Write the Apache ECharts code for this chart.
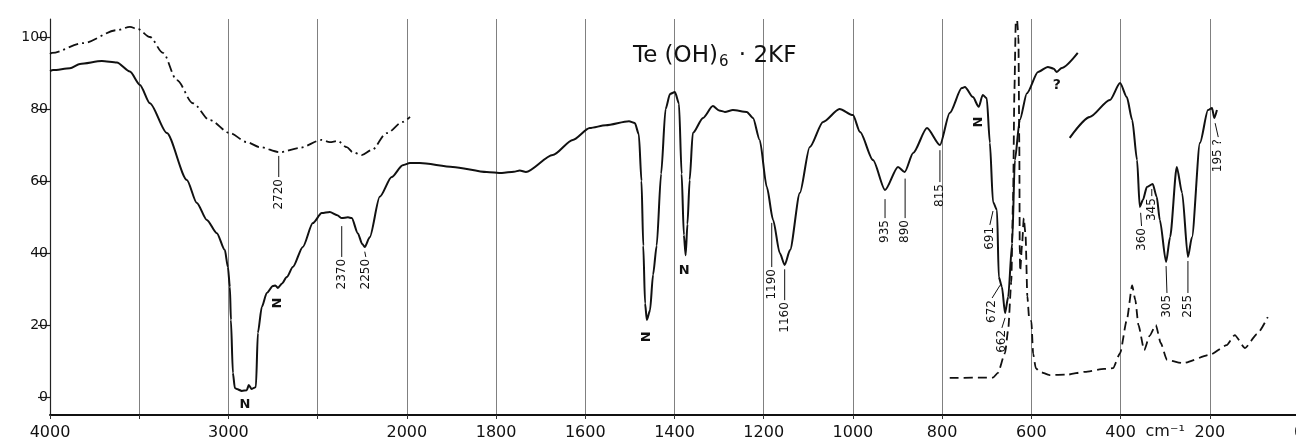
<!DOCTYPE html>
<html>
<head>
<meta charset="utf-8">
<title>Te(OH)6 · 2KF</title>
<script src="https://cdn.jsdelivr.net/npm/echarts@6/dist/echarts.min.js"></script>
<style>
  html, body { margin: 0; padding: 0; background: #fff; }
  #chart { width: 1296px; height: 442px; }
</style>
</head>
<body>
<div id="chart"></div>
<script>
// [wavenumber cm-1, transmittance %]
var nujolSpectrum = [
  [4000, 90.5], [3983, 90.8], [3888, 91.3], [3832, 92.5], [3709, 93.3], [3625, 92.9], [3552, 90.4],
  [3496, 86.7], [3440, 81.6], [3345, 73.3], [3233, 60.3], [3177, 53.9], [3121, 49.2], [3065, 45.5],
  [3020, 40.8], [3003, 36.1], [2992, 30.6], [2986, 21.4], [2975, 6.7], [2964, 2.5], [2953, 2.2],
  [2925, 1.7], [2897, 1.9], [2886, 3.3], [2870, 2.2], [2858, 2.5], [2846, 2.8], [2835, 17.8],
  [2813, 25], [2785, 28.9], [2751, 30.8], [2737, 31], [2723, 30.3], [2700, 31.5], [2673, 33.3],
  [2639, 36.1], [2583, 41.7], [2527, 48.3], [2477, 51.1], [2432, 51.4], [2390, 50.5], [2365, 49.7],
  [2330, 49.9], [2309, 49.7], [2275, 45.5], [2250, 42.5], [2236, 41.7], [2208, 44.4], [2152, 55.6],
  [2085, 61.1], [2023, 64.4], [1993, 65], [1971, 65], [1897, 63.9], [1821, 62.5], [1787, 62.2],
  [1760, 62.6], [1747, 62.9], [1733, 62.5], [1673, 67.2], [1628, 71.4], [1590, 74.7], [1554, 75.5],
  [1502, 76.6], [1489, 76.1], [1480, 73], [1474, 60], [1470, 42], [1466, 26], [1462, 21.4],
  [1455, 24], [1448, 34], [1440, 42], [1430, 62], [1420, 80], [1410, 84.2], [1399, 84.7],
  [1390, 81.5], [1384, 62], [1379, 45], [1375, 39.4], [1371, 48], [1366, 60.3], [1359, 73.3],
  [1336, 77.5], [1314, 80.8], [1300, 79.6], [1287, 79.2], [1269, 79.7], [1238, 79.2], [1224, 77.5],
  [1209, 71.4], [1193, 58.3], [1179, 49.2], [1164, 40], [1153, 36.7], [1141, 40.8], [1119, 56.7],
  [1097, 69.4], [1067, 76.4], [1030, 80], [1000, 78.3], [984, 73.6], [955, 65.8], [928, 57.5],
  [899, 63.9], [884, 62.5], [865, 67.8], [834, 74.7], [805, 70], [783, 78.9], [756, 85.8],
  [749, 86.1], [731, 83.3], [718, 80.6], [709, 83.9], [700, 83], [693, 70.6], [686, 54.2],
  [677, 51.9], [673, 33.3], [666, 30.6], [659, 23.3], [652, 27.8], [643, 42.8], [637, 65.8],
  [626, 76.9], [610, 84.4], [585, 90.3], [563, 91.7], [550, 91.2], [543, 90.3], [532, 91.4],
  [496, 95.6]
];
var dashDotSpectrum = [
  [4000, 95.3], [3989, 95.6], [3815, 98.3], [3625, 101.9], [3552, 102.8], [3507, 102.2], [3440, 100],
  [3367, 95.6], [3289, 88], [3199, 81.6], [3104, 76.9], [2992, 73.3], [2897, 70.8], [2824, 69.4],
  [2712, 68], [2600, 69.2], [2477, 71.4], [2432, 70.8], [2387, 71.1], [2337, 69.4], [2303, 68],
  [2253, 67.2], [2197, 68.6], [2113, 73.3], [2023, 76.4], [1993, 77.8]
];
var farIrSpectrum = [
  [514, 72], [469, 77.8], [424, 82.5], [401, 87.2], [386, 83.3], [374, 77], [363, 65.8], [357, 52.8],
  [350, 54.7], [341, 58.3], [328, 59.2], [319, 55.6], [312, 49.2], [298, 37.5], [289, 44.4],
  [274, 63.9], [262, 56.7], [249, 38.9], [240, 44.4], [222, 70.6], [204, 79.7], [195, 80.3],
  [190, 77.5], [184, 79.7]
];
var dashedSpectrum = [
  [783, 5.3], [686, 5.4], [675, 6.7], [659, 12.2], [652, 18.6], [645, 32], [641, 55], [638, 85],
  [635, 104], [632, 104.7], [629, 100], [627, 70], [626, 40], [625, 35], [621, 42], [617, 49.7],
  [613, 45], [609, 28], [605, 22], [600, 21], [596, 12], [590, 8], [581, 7], [559, 6.1], [520, 6.2],
  [480, 7], [437, 7.8], [417, 8], [401, 12.2], [386, 21.4], [374, 31], [367, 27], [360, 20],
  [347, 13], [335, 17], [321, 20], [310, 15], [296, 10.3], [260, 9.4], [200, 11.7], [162, 14.4],
  [144, 17.2], [121, 13.6], [94, 17.5], [70, 22.2]
];

var tickLabels = ['4000', '', '3000', '', '2000', '1800', '1600', '1400', '1200', '1000', '800', '600', '400', '200', '0'];
var yTicks = [0, 20, 40, 60, 80, 100];

// band labels: text, where the text starts [w, T], where its leader touches the curve [w, T]
var bandText = ['2720', '2370', '2250', '1190', '1160', '935', '890', '815', '691', '672', '662', '360', '345', '305', '255', '195 ?'];
var bandTextAt = [
  [2718, 61.1], [2365, 38.9], [2230, 38.9], [1182, 36.1], [1153, 26.9], [928, 49.7], [883, 49.7],
  [805, 59.7], [693, 47.8], [688, 27.5], [666, 19.2], [353, 47.5], [330, 55.8], [296, 28.9],
  [249, 28.9], [181, 72.2]
];
var bandTipAt = [
  [2718, 67.8], [2365, 48.3], [2236, 41.2], [1182, 49.2], [1153, 36.3], [928, 55.8], [883, 61.5],
  [805, 69.4], [686, 52.5], [670, 31.9], [659, 22.8], [355, 52], [330, 58.6], [298, 37.2],
  [249, 38.6], [188, 76.9]
];
var nujolUpright = [[2908, -2.2], [1378, 35]];
var nujolTurned = [[2723, 26.1], [1462, 16.7], [718, 76.4]];
var queryMark = [[543, 86.7]];
var unitMark = [[300, -9.8]];

// axis is linear in u: 4000-2000 compressed 2.5x
function u(w) {
  return w >= 2000 ? (4000 - w) * 0.4 : 800 + (2000 - w);
}
function toXY(arr) {
  return arr.map(function (p) { return [u(p[0]), p[1]]; });
}

var FONT = '"DejaVu Sans", sans-serif';
var INK = '#111';

function textSeries(points, label, rotate, font) {
  return {
    type: 'custom',
    silent: true,
    data: toXY(points),
    renderItem: function (params, api) {
      var pt = api.coord([api.value(0), api.value(1)]);
      return {
        type: 'text',
        x: pt[0], y: pt[1],
        rotation: rotate ? Math.PI / 2 : 0,
        style: { text: label, align: 'center', verticalAlign: 'middle', font: font, fill: INK }
      };
    }
  };
}

var chart = echarts.init(document.getElementById('chart'));

var option = {
  animation: false,
  backgroundColor: '#fff',
  title: {
    text: 'Te (OH){sub|6} · 2KF',
    left: 628, top: 37,
    textStyle: {
      fontFamily: FONT, fontSize: 23, fontWeight: 'normal', color: INK,
      rich: { sub: { fontFamily: FONT, fontSize: 15, color: INK, verticalAlign: 'bottom', padding: [13, 3, 0, 1] } }
    }
  },
  grid: { left: 50, right: -3, top: 19, bottom: 27, outerBoundsMode: 'none', containLabel: false },
  xAxis: {
    type: 'value',
    min: 0, max: 2800, interval: 200,
    axisLine: { show: true, onZero: false, lineStyle: { color: INK, width: 2 } },
    axisTick: { show: true, length: 4, lineStyle: { color: '#333', width: 1 } },
    axisLabel: {
      color: INK, fontFamily: FONT, fontSize: 16, margin: 10, showMaxLabel: true, hideOverlap: false,
      formatter: function (v) { return tickLabels[Math.round(v / 200)]; }
    },
    splitLine: { show: true, lineStyle: { color: '#808080', width: 1 } }
  },
  yAxis: {
    type: 'value',
    min: -5, max: 105,
    axisLine: { show: true, lineStyle: { color: '#222', width: 1.2 } },
    axisTick: { show: true, length: 12, customValues: yTicks, lineStyle: { color: '#222', width: 1.2 } },
    axisLabel: { color: INK, fontFamily: FONT, fontSize: 14, margin: 2, customValues: yTicks },
    splitLine: { show: false }
  },
  series: [
    {
      type: 'line', data: toXY(nujolSpectrum), symbol: 'none', smooth: 0.25, smoothMonotone: 'x',
      lineStyle: { color: INK, width: 2 }
    },
    {
      type: 'line', data: toXY(dashDotSpectrum), symbol: 'none', smooth: 0.3, smoothMonotone: 'x',
      lineStyle: { color: INK, width: 1.8, type: [10, 4, 2, 4] }
    },
    {
      type: 'line', data: toXY(farIrSpectrum), symbol: 'none', smooth: 0.25, smoothMonotone: 'x',
      lineStyle: { color: INK, width: 2 }
    },
    {
      type: 'line', data: toXY(dashedSpectrum), symbol: 'none', smooth: 0.2, smoothMonotone: 'x',
      lineStyle: { color: INK, width: 1.8, type: [9, 5] }
    },
    {
      type: 'custom',
      silent: true,
      data: bandTextAt.map(function (p, i) {
        return [u(p[0]), p[1], u(bandTipAt[i][0]), bandTipAt[i][1]];
      }),
      encode: { x: [0, 2], y: [1, 3] },
      renderItem: function (params, api) {
        var top = api.coord([api.value(0), api.value(1)]);
        var tip = api.coord([api.value(2), api.value(3)]);
        return {
          type: 'group',
          children: [
            {
              type: 'line',
              shape: { x1: tip[0], y1: tip[1] + 3, x2: top[0], y2: top[1] },
              style: { stroke: INK, lineWidth: 1 }
            },
            {
              type: 'text',
              x: top[0], y: top[1] + 2,
              rotation: Math.PI / 2,
              style: {
                text: bandText[params.dataIndex], align: 'right', verticalAlign: 'middle',
                font: '12px ' + FONT, fill: INK
              }
            }
          ]
        };
      }
    },
    textSeries(nujolUpright, 'N', false, 'bold 13px ' + FONT),
    textSeries(nujolTurned, 'N', true, 'bold 13px ' + FONT),
    textSeries(queryMark, '?', false, 'bold 14px ' + FONT),
    textSeries(unitMark, 'cm⁻¹', false, '16px ' + FONT)
  ]
};

chart.setOption(option);
</script>
</body>
</html>
